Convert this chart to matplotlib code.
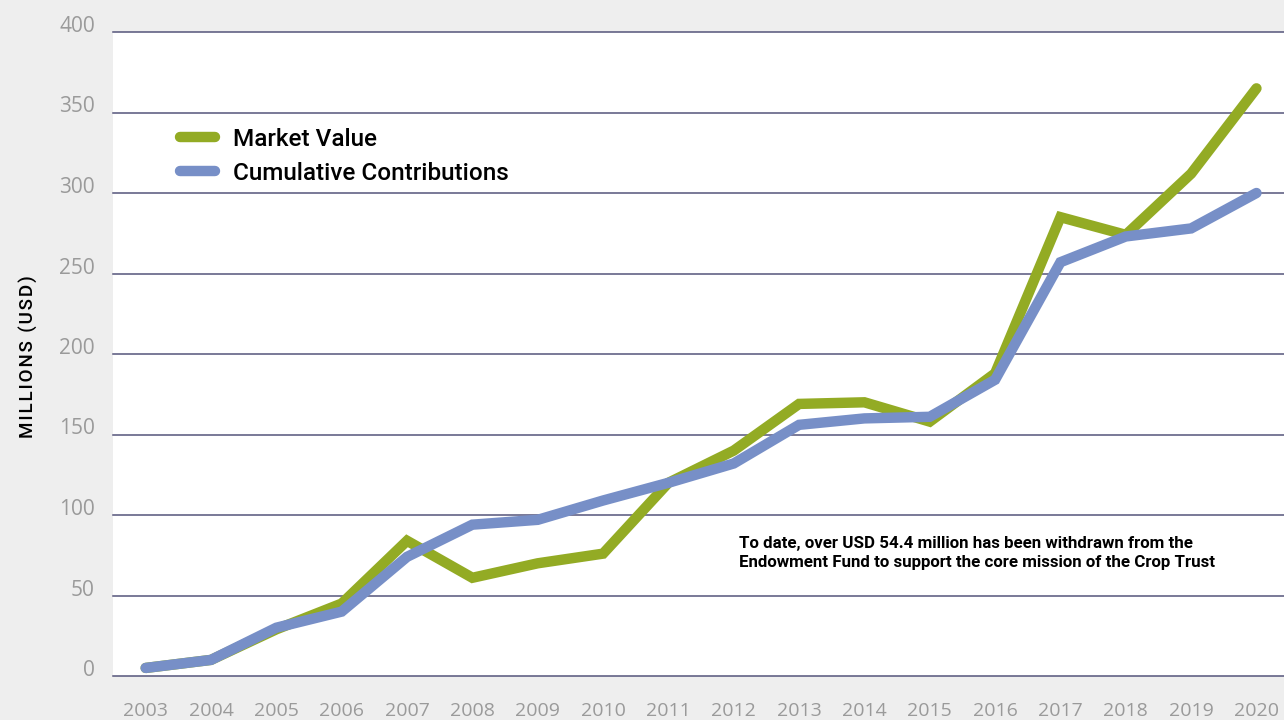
import matplotlib
matplotlib.use("Agg")
import matplotlib.pyplot as plt
from matplotlib.lines import Line2D

years = ["2003", "2004", "2005", "2006", "2007", "2008", "2009", "2010", "2011",
         "2012", "2013", "2014", "2015", "2016", "2017", "2018", "2019", "2020"]
market_value = [5, 10, 29, 45, 84, 61, 70, 76, 120, 140, 169, 170, 158, 188, 285, 274, 312, 365]
cumulative = [5, 10, 30, 40, 74, 94, 97, 109, 120, 132, 156, 160, 161, 184, 257, 273, 278, 300]
y_ticks = [0, 50, 100, 150, 200, 250, 300, 350, 400]

GREEN = "#93ab24"
BLUE = "#778fc7"
GRID = "#55557a"
BG = "#eeeeee"
TICK = "#9a9a9a"

fig = plt.figure(figsize=(12.84, 7.2), dpi=100, facecolor=BG)
ax = fig.add_axes([113 / 1284, 44 / 720, 1 - 113 / 1284 + 0.004, 644 / 720])
ax.set_facecolor("white")

x = list(range(len(years)))
ax.plot(x, market_value, color=GREEN, lw=7.5, solid_capstyle="round",
        solid_joinstyle="miter", zorder=3)
ax.plot(x, cumulative, color=BLUE, lw=7.5, solid_capstyle="round",
        solid_joinstyle="miter", zorder=4)

ax.set_ylim(0, 400)
ax.set_xlim(-0.5, 17.5)
ax.set_yticks(y_ticks)
ax.set_xticks(x)
ax.set_xticklabels(years)
for y in y_ticks:
    ax.axhline(y, color=GRID, lw=1.1, zorder=1, clip_on=False)
for s in ax.spines.values():
    s.set_visible(False)
ax.tick_params(axis="both", length=0, colors=TICK, labelsize=14)
ax.tick_params(axis="y", pad=13, labelsize=15)
ax.tick_params(axis="x", pad=19)
for lab in ax.get_yticklabels():
    lab.set_fontfamily("Open Sans")
    lab.set_verticalalignment("baseline")
for lab in ax.get_xticklabels():
    lab.set_fontfamily("Open Sans")

hs = "\u200a"
ylabel = hs.join("MILLIONS (USD)")
fig.text(28 / 1284, 1 - 357 / 720, ylabel, rotation=90, ha="center",
         va="center", fontsize=13.5, fontfamily=["Roboto", "DejaVu Sans"],
         fontweight="medium", color="black")

handles = [Line2D([0], [0], color=GREEN, lw=7.5, solid_capstyle="round"),
           Line2D([0], [0], color=BLUE, lw=7.5, solid_capstyle="round")]
leg = ax.legend(handles, ["Market Value", "Cumulative Contributions"],
                loc="upper left", bbox_to_anchor=(0.038, 0.885), frameon=False,
                handlelength=1.45, handletextpad=0.75, labelspacing=0.45,
                prop={"family": "Roboto", "size": 17.5, "weight": "medium"})

ax.text(0.532, 0.191,
        "To date, over USD 54.4 million has been withdrawn from the\n"
        "Endowment Fund to support the core mission of the Crop Trust",
        transform=ax.transAxes, fontsize=12.2, fontfamily="Roboto",
        fontweight="bold", color="black", linespacing=1.35, va="center", ha="left")

fig.savefig("out.png", dpi=100, facecolor=BG)
